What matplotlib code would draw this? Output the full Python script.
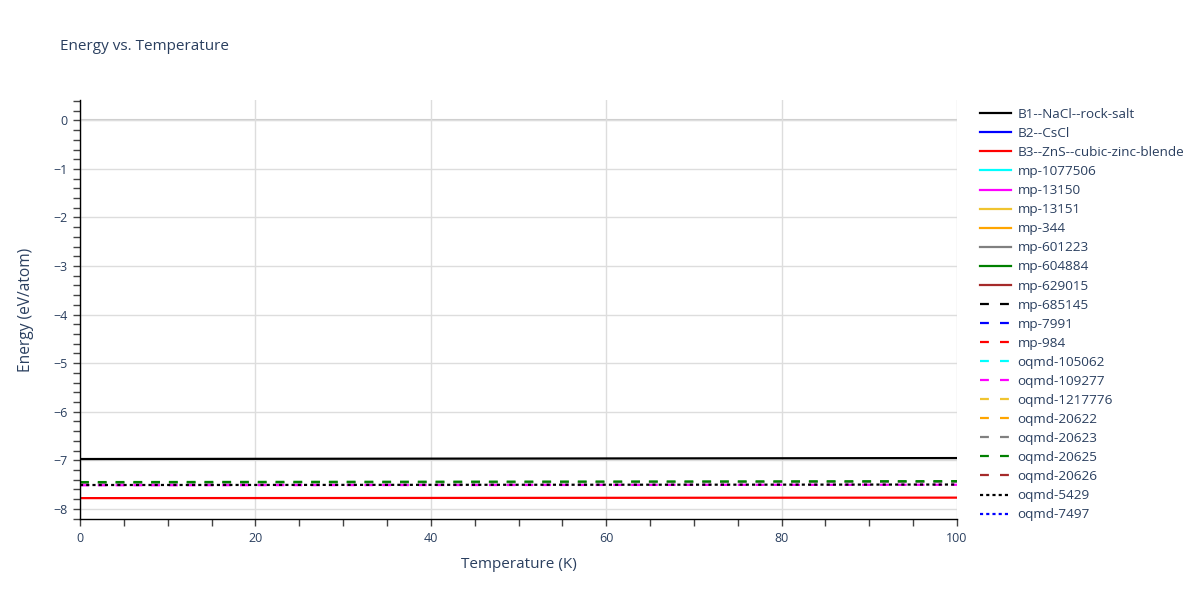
import matplotlib
matplotlib.use("Agg")
import matplotlib.pyplot as plt
from matplotlib.ticker import MultipleLocator
from matplotlib.lines import Line2D

plt.rcParams['font.family'] = ['Open Sans', 'DejaVu Sans']

# temperatures (K) and energies (eV/atom)
temps = [0, 25, 50, 75, 100]
e_b1 = [-6.975, -6.970, -6.965, -6.960, -6.955]
e_b3 = [-7.780, -7.778, -7.775, -7.772, -7.770]
e_20625 = [-7.450, -7.445, -7.440, -7.435, -7.430]
e_20623 = [-7.465, -7.460, -7.455, -7.450, -7.445]
e_109277 = [-7.515, -7.512, -7.510, -7.507, -7.505]
e_5429 = [-7.510, -7.508, -7.505, -7.503, -7.500]

# legend entries: (name, colour, style, energies or None when not drawn)
series = [
    ("B1--NaCl--rock-salt", "black", "-", e_b1),
    ("B2--CsCl", "blue", "-", None),
    ("B3--ZnS--cubic-zinc-blende", "red", "-", e_b3),
    ("mp-1077506", "cyan", "-", None),
    ("mp-13150", "magenta", "-", None),
    ("mp-13151", "#f0c430", "-", None),
    ("mp-344", "orange", "-", None),
    ("mp-601223", "gray", "-", None),
    ("mp-604884", "green", "-", None),
    ("mp-629015", "brown", "-", None),
    ("mp-685145", "black", "--", None),
    ("mp-7991", "blue", "--", None),
    ("mp-984", "red", "--", None),
    ("oqmd-105062", "cyan", "--", None),
    ("oqmd-109277", "magenta", "--", e_109277),
    ("oqmd-1217776", "#f0c430", "--", None),
    ("oqmd-20622", "orange", "--", None),
    ("oqmd-20623", "gray", "--", e_20623),
    ("oqmd-20625", "green", "--", e_20625),
    ("oqmd-20626", "brown", "--", None),
    ("oqmd-5429", "black", ":", e_5429),
    ("oqmd-7497", "blue", ":", None),
]

txt = "#2a3f5f"
lw = 1.6
fig = plt.figure(figsize=(12, 6), dpi=100)
ax = fig.add_axes([80 / 1200, 1 - 519 / 600, (957 - 80) / 1200, (519 - 100) / 600])

handles = []
for name, col, ls, vals in series:
    if ls == "--":
        dashes = (4, 4)
    elif ls == ":":
        dashes = (1.4, 1.4)
    else:
        dashes = None
    if vals is not None:
        ln, = ax.plot(temps, vals, color=col, lw=lw, label=name)
        if dashes:
            ln.set_dashes(dashes)
    h = Line2D([], [], color=col, lw=lw)
    if dashes:
        h.set_dashes((4, 5) if ls == "--" else (1.4, 1.4))
    handles.append(h)

ax.set_xlim(0, 100)
ax.set_ylim(-8.21, 0.42)
ax.xaxis.set_major_locator(MultipleLocator(20))
ax.xaxis.set_minor_locator(MultipleLocator(5))
ax.yaxis.set_major_locator(MultipleLocator(1))
ax.yaxis.set_minor_locator(MultipleLocator(0.2))
ax.grid(True, which="major", color="#dddddd", lw=1)
ax.axhline(0, color="#cccccc", lw=1.5, zorder=0.5)
ax.set_axisbelow(True)
for s in ["top", "right"]:
    ax.spines[s].set_visible(False)
for s in ["left", "bottom"]:
    ax.spines[s].set_color("black")
    ax.spines[s].set_linewidth(1)
ax.tick_params(which="both", direction="out", length=5, width=1, color="#444444",
               labelsize=9, labelcolor=txt, pad=4)
ax.set_yticks(range(-8, 1))
ax.set_yticklabels(["\u22128", "\u22127", "\u22126", "\u22125", "\u22124", "\u22123", "\u22122", "\u22121", "0"])
ax.set_xlabel("Temperature (K)", fontsize=11, color=txt, labelpad=9)
ax.set_ylabel("Energy (eV/atom)", fontsize=11.2, color=txt, labelpad=14)

fig.text(60 / 1200, 1 - 47 / 600, "Energy vs. Temperature", fontsize=11, color=txt, va="center")

fig.legend(handles, [s[0] for s in series], loc="upper left",
           bbox_to_anchor=(980 / 1200, 1 - 108 / 600), frameon=False,
           fontsize=9.7, labelcolor=txt, handlelength=2.3, handletextpad=0.5,
           labelspacing=0.45, borderaxespad=0, borderpad=0)

fig.savefig("out.png", dpi=100)
